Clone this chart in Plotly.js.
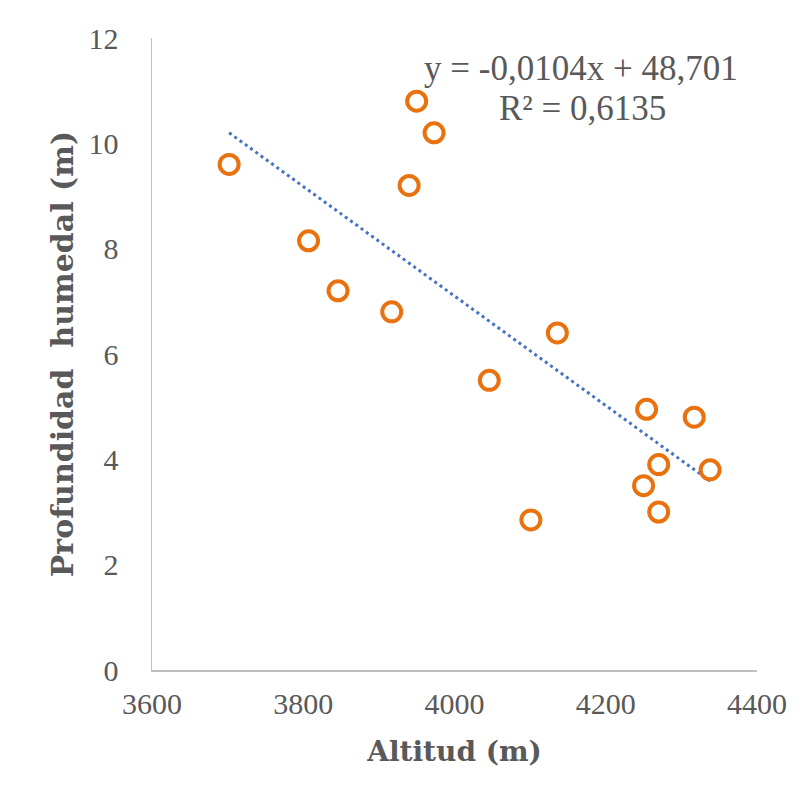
<!DOCTYPE html>
<html>
<head>
<meta charset="utf-8">
<script src="https://cdn.plot.ly/plotly-3.0.1.min.js"></script>
<style>html,body{margin:0;padding:0;background:#fff;}#chart{width:806px;height:798px;}</style>
</head>
<body>
<div id="chart"></div>
<script>
// Data
const altitud = [3702, 3807, 3846, 3917, 3940, 3950, 3973, 4046, 4101, 4136, 4254, 4250, 4270, 4270, 4317, 4338];
const profundidad = [9.6, 8.15, 7.2, 6.8, 9.2, 10.8, 10.2, 5.5, 2.85, 6.4, 4.95, 3.5, 3.9, 3.0, 4.8, 3.8];
const slope = -0.0104;
const intercept = 48.701;
const eqText = "y = -0,0104x + 48,701";
const r2Text = "R² = 0,6135";
const xTicks = [3600, 3800, 4000, 4200, 4400];
const yTicks = [0, 2, 4, 6, 8, 10, 12];

const xMin = Math.min(...altitud), xMax = Math.max(...altitud);
const trendX = [xMin, xMax];
const trendY = trendX.map(x => slope * x + intercept);

const font = "Liberation Serif";
const titleFont = "DejaVu Serif";
const grey = "#595959";

const data = [
  {
    x: trendX, y: trendY, type: "scatter", mode: "lines",
    line: {color: "#4472C4", width: 3, dash: "3px,3.5px"},
    hoverinfo: "skip", showlegend: false
  },
  {
    x: altitud, y: profundidad, type: "scatter", mode: "markers",
    marker: {symbol: "circle-open", size: 19, color: "#E9720F", line: {width: 4, color: "#E9720F"}},
    showlegend: false
  }
];

const layout = {
  width: 806, height: 798,
  margin: {l: 152, r: 49, t: 38, b: 128},
  paper_bgcolor: "#fff", plot_bgcolor: "#fff",
  font: {family: font, color: grey},
  xaxis: {
    range: [3600, 4400], tickvals: xTicks, ticktext: xTicks.map(String),
    showgrid: false, zeroline: false, showline: true, linecolor: "#bfbfbf", linewidth: 1.5,
    ticks: "", ticklabelstandoff: 6, tickfont: {size: 30, color: grey, family: font},
    title: {text: "<b>Altitud (m)</b>", font: {size: 28, color: grey, family: titleFont}, standoff: 23}
  },
  yaxis: {
    range: [0, 12], tickvals: yTicks, ticktext: yTicks.map(String),
    showgrid: false, zeroline: false, showline: true, linecolor: "#bfbfbf", linewidth: 1.5,
    ticks: "", ticklabelstandoff: 26, tickfont: {size: 30, color: grey, family: font},
    title: {text: "<b>Profundidad  humedal (m)</b>", font: {size: 30, color: grey, family: titleFont}, standoff: 6}
  },
  annotations: [
    {xref: "paper", yref: "paper", x: (581-152)/605, y: (670-68)/632, text: eqText, showarrow: false,
     xanchor: "center", yanchor: "middle", font: {size: 35, color: grey, family: font}},
    {xref: "paper", yref: "paper", x: (582-152)/605, y: (670-108)/632, text: r2Text, showarrow: false,
     xanchor: "center", yanchor: "middle", font: {size: 35, color: grey, family: font}}
  ]
};

Plotly.newPlot("chart", data, layout, {displayModeBar: false, staticPlot: true});
</script>
</body>
</html>
